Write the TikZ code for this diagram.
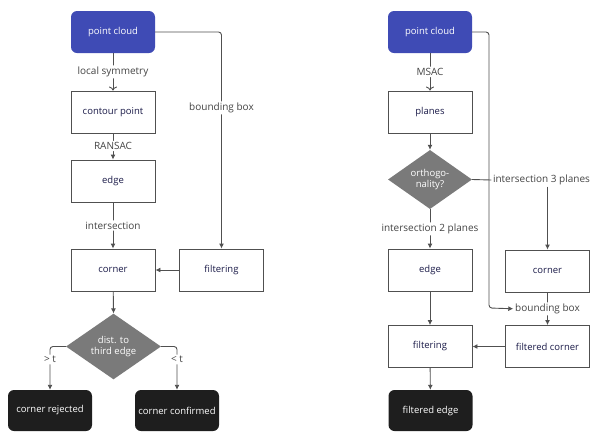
\documentclass[tikz,border=0pt]{standalone}
\usepackage{fontspec}
\setmainfont{Open Sans}
\usetikzlibrary{shapes.geometric,arrows.meta}
\definecolor{pcblue}{HTML}{3F4BB5}
\definecolor{boxline}{HTML}{505050}
\definecolor{boxtext}{HTML}{1A1A48}
\definecolor{labtext}{HTML}{444444}
\definecolor{darkbox}{HTML}{1E1E1E}
\definecolor{diagray}{HTML}{7A7A7A}
\tikzset{
  procbox/.style={draw=boxline, line width=0.9pt, fill=white, minimum width=84pt, minimum height=42pt, inner sep=0pt, text=boxtext, font=\fontsize{9.5}{11}\selectfont},
  srcbox/.style={fill=pcblue, rounded corners=6pt, minimum width=84pt, minimum height=42pt, inner sep=0pt, text=white, font=\fontsize{9.5}{11}\selectfont},
  endbox/.style={fill=darkbox, rounded corners=6pt, minimum width=84pt, minimum height=41pt, inner sep=0pt, text=white, font=\fontsize{9.5}{11}\selectfont},
  decide/.style={diamond, fill=diagray, inner sep=0pt, text=white, align=center, font=\fontsize{9.5}{11}\selectfont},
  lab/.style={fill=white, text=labtext, inner sep=1.5pt, font=\fontsize{10}{12}\selectfont},
  conn/.style={draw=boxline, line width=0.9pt, rounded corners=3pt, -{Latex[length=5pt,width=5pt]}},
  openconn/.style={draw=boxline, line width=0.9pt, rounded corners=3pt, -{To[length=4pt,width=8pt]}},
  plain/.style={draw=boxline, line width=0.9pt, rounded corners=3pt}
}
\begin{document}
\begin{tikzpicture}[x=1pt,y=-1pt]
\useasboundingbox (0,0) rectangle (590,432);
% left column
\node[srcbox] (pcL) at (113,32) {point cloud};
\node[procbox] (contour) at (113,112) {contour point};
\node[procbox] (edgeL) at (113,181) {edge};
\node[procbox] (cornerL) at (113,270) {corner};
\node[procbox] (filtL) at (221.5,270) {filtering};
\node[decide, minimum width=95pt, minimum height=45pt] (dist) at (113.5,346.5) {dist. to\\third edge};
\node[endbox] (rej) at (50,410.5) {corner rejected};
\node[endbox] (conf) at (177,410.5) {corner confirmed};
\coordinate (bbL) at (221.5,32);
\coordinate (rejK) at (50,346.5);
\coordinate (confK) at (177,346.5);

\draw[openconn] (pcL) -- node[lab, pos=0.5] {local symmetry} (contour);
\draw[conn] (contour) -- node[lab, pos=0.48] {RANSAC} (edgeL);
\draw[conn] (edgeL) -- node[lab, pos=0.5] {intersection} (cornerL);
\draw[conn] (pcL.east) -- (bbL) -- node[lab, pos=0.35] {bounding box} (filtL.north);
\draw[conn] (filtL) -- (cornerL);
\draw[conn] (cornerL) -- (dist.north);
\draw[conn] (dist.west) -- (rejK) -- node[lab, pos=0.3] {> t} (rej.north);
\draw[conn] (dist.east) -- (confK) -- node[lab, pos=0.3] {< t} (conf.north);

% right column
\node[srcbox] (pcR) at (430,32) {point cloud};
\node[procbox] (planes) at (430,112) {planes};
\node[decide, minimum width=84pt, minimum height=45pt] (orth) at (430,179.5) {orthogo-\\nality?};
\node[procbox] (edgeR) at (430,270) {edge};
\node[procbox] (cornerR) at (547.5,271) {corner};
\node[procbox] (filtR) at (430,346.5) {filtering};
\node[procbox] (fcorner) at (547.5,346.5) {filtered corner};
\node[endbox] (fedge) at (430.5,410.5) {filtered edge};
\node[lab] (i3) at (541.5,180) {intersection 3 planes};
\coordinate (pcRk) at (489,32);
\coordinate (pcRk2) at (489,308);

\draw[openconn] (pcR) -- node[lab, pos=0.5] {MSAC} (planes);
\draw[conn] (planes) -- (orth.north);
\draw[conn] (orth.south) -- node[lab, pos=0.5] {intersection 2 planes} (edgeR);
\draw[plain] (orth.east) -- (i3.west);
\draw[conn] (cornerR.north |- i3.south) -- (cornerR.north);
\draw[conn] (edgeR) -- (filtR);
\draw[conn] (cornerR) -- node[lab, pos=0.5] (bbR) {bounding box} (fcorner);
\draw[conn] (pcR.east) -- (pcRk) -- (pcRk2) -- (bbR.west);
\draw[conn] (fcorner) -- (filtR);
\draw[conn] (filtR) -- (fedge);
\end{tikzpicture}
\end{document}
